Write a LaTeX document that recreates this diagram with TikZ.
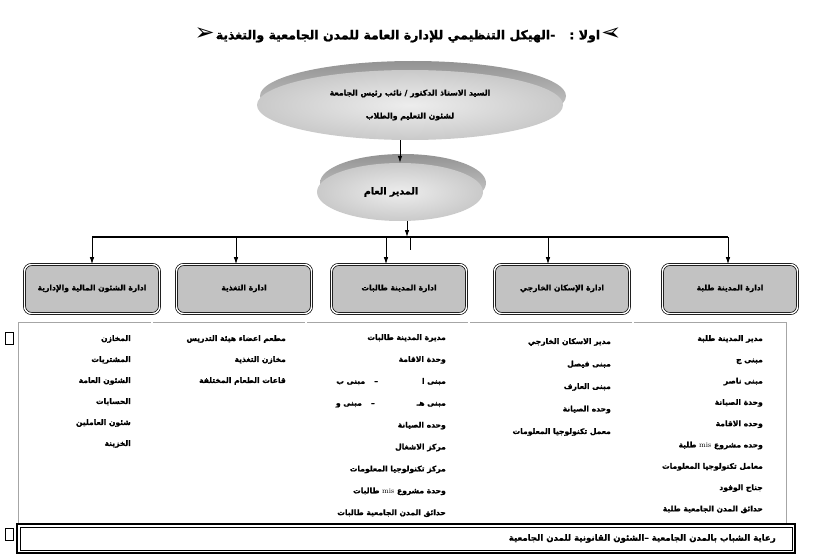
\documentclass[tikz,border=0pt]{standalone}
\usepackage{fontspec}
\usepackage{graphicx}
\usepackage{tikz}
\usetikzlibrary{arrows.meta, positioning, shapes.geometric, shadows}
\TeXXeTstate=1
\newfontfamily\arabicfont[Script=Arabic, BoldFeatures={FakeBold=1.4}]{DejaVu Sans}
\newfontfamily\symbolfont{DejaVu Sans}
\newcommand{\artext}[1]{\beginR #1\endR}
\newcommand{\latinword}[1]{\beginL{\rmfamily\mdseries #1}\endL{}}
\definecolor{boxgray}{HTML}{C2C2C2}

\begin{document}
\begin{tikzpicture}[
    x=1pt, y=-1pt,
    every node/.style={font=\arabicfont\bfseries, inner sep=0pt},
    disc/.style={ellipse, inner color=gray!14, outer color=gray!42,
        general shadow={shadow xshift=3pt, shadow yshift=9pt, top color=gray!85, bottom color=gray!30}},
    unit/.style={draw, double, double distance=1.4pt, line width=0.7pt, rounded corners=7pt,
        fill=boxgray, minimum width=135pt, minimum height=49pt,
        font=\arabicfont\bfseries\fontsize{7.6}{9}\selectfont},
    list/.style={anchor=north east, align=right, font=\arabicfont\bfseries\fontsize{7.6}{21.3}\selectfont},
    divider/.style={double, double distance=1.6pt, line width=0.6pt},
    frame/.style={draw=gray!70, line width=0.7pt},
    arrow/.style={-{Latex[length=7pt, width=4.5pt]}, line width=0.8pt},
    bus/.style={line width=2.6pt},
]
    \useasboundingbox (0,0) rectangle (822,559);

    \node[font=\arabicfont\bfseries\fontsize{12.5}{14}\selectfont] (title) at (408,35)
        {\raisebox{-1pt}{\symbolfont\fontsize{24}{24}\selectfont ➢}\hspace{1pt}\artext{اولا :\hspace{14pt}-الهيكل التنظيمي للإدارة العامة للمدن الجامعية والتغذية}\hspace{1pt}\raisebox{-1pt}{\reflectbox{\symbolfont\fontsize{24}{24}\selectfont ➢}}};

    \node[disc, minimum width=306pt, minimum height=70pt, align=center,
        font=\arabicfont\bfseries\fontsize{7.8}{23}\selectfont] (boss) at (410,105)
        {\artext{السيد الاستاذ الدكتور / نائب رئيس الجامعة}\\ \artext{لشئون التعليم والطلاب}};
    \node[disc, minimum width=166pt, minimum height=58pt,
        font=\arabicfont\bfseries\fontsize{9.5}{11}\selectfont] (manager) at (400,192)
        {\hspace{-18pt}\artext{المدير العام}};

    \draw[arrow] (boss.south -| manager) -- (manager.north);

    \coordinate (hub) at (407,237);
    \coordinate (stub) at (410,250);
    \coordinate (busl) at (92,237);
    \coordinate (busr) at (728,237);
    \draw[arrow] (manager.south -| hub) -- (hub);
    \draw[bus] (busl) -- (busr);
    \draw[line width=1pt] (hub -| stub) -- (stub);

    \node[unit] (finance) at (92,289) {\raisebox{3pt}{\artext{ادارة الشئون المالية والإدارية}}};
    \node[unit] (catering) at (244,289) {\raisebox{3pt}{\artext{ادارة التغذية}}};
    \node[unit] (girls) at (399,289) {\raisebox{3pt}{\artext{ادارة المدينة طالبات}}};
    \node[unit] (housing) at (562,289) {\raisebox{3pt}{\artext{ادارة الإسكان الخارجي}}};
    \node[unit] (boys) at (730,289) {\raisebox{3pt}{\artext{ادارة المدينة طلبة}}};

    \foreach \x/\b in {92/finance, 236/catering, 386/girls, 548/housing, 728/boys} {
        \coordinate (drop-\b) at (\x,237);
        \draw[arrow] (drop-\b) -- (drop-\b |- \b.north);
    }

    \draw[frame] (18,322) rectangle (786,523);
    \foreach \x in {152, 306, 469, 633}
        \draw[divider] (\x,322) -- (\x,523);

    \draw[line width=0.6pt] (5,332) rectangle (13,344);
    \draw[line width=0.6pt] (5,528) rectangle (13,540);

    \node[list] (boyslist) at (763,335)
        {\artext{مدير المدينة طلبة}\\ \artext{مبنى ج}\\ \artext{مبنى ناصر}\\ \artext{وحدة الصيانة}\\
         \artext{وحده الاقامة}\\ \artext{وحده مشروع \latinword{mis} طلبة}\\ \artext{معامل تكنولوجيا المعلومات}\\
         \artext{جناح الوفود}\\ \artext{حدائق المدن الجامعية طلبة}};
    \node[list, font=\arabicfont\bfseries\fontsize{7.6}{22.5}\selectfont] (housinglist) at (611,338)
        {\artext{مدير الاسكان الخارجي}\\ \artext{مبنى فيصل}\\ \artext{مبنى العارف}\\ \artext{وحده الصيانة}\\
         \artext{معمل تكنولوجيا المعلومات}};
    \node[list, font=\arabicfont\bfseries\fontsize{7.6}{21.9}\selectfont] (girlslist) at (446,334)
        {\artext{مديرة المدينة طالبات}\\ \artext{وحدة الاقامة}\\ \artext{مبنى ا\hspace{44pt}–\hspace{9pt}مبنى ب}\\
         \artext{مبنى هـ\hspace{42pt}–\hspace{9pt}مبنى و}\\ \artext{وحده الصيانة}\\ \artext{مركز الاشغال}\\
         \artext{مركز تكنولوجيا المعلومات}\\ \artext{وحدة مشروع \latinword{mis} طالبات}\\ \artext{حدائق المدن الجامعية طالبات}};
    \node[list, font=\arabicfont\bfseries\fontsize{7.6}{21}\selectfont] (cateringlist) at (286,335)
        {\artext{مطعم اعضاء هيئة التدريس}\\ \artext{مخازن التغذية}\\ \artext{قاعات الطعام المختلفة}};
    \node[list, font=\arabicfont\bfseries\fontsize{7.6}{21}\selectfont] (financelist) at (131,335)
        {\artext{المخازن}\\ \artext{المشتريات}\\ \artext{الشئون العامة}\\ \artext{الحسابات}\\
         \artext{شئون العاملين}\\ \artext{الخزينة}};

    \node[draw, line width=2pt, minimum width=778pt, minimum height=29pt] (bar) at (406,538.5) {};
    \draw[line width=0.8pt] ([shift={(4,4)}]bar.north west) rectangle ([shift={(-4,-4)}]bar.south east);
    \node[anchor=east, font=\arabicfont\bfseries\fontsize{8.6}{10}\selectfont] (bartext) at ([xshift=-20pt]bar.east)
        {\artext{رعاية الشباب بالمدن الجامعية –الشئون القانونية للمدن الجامعية}};
\end{tikzpicture}
\end{document}
